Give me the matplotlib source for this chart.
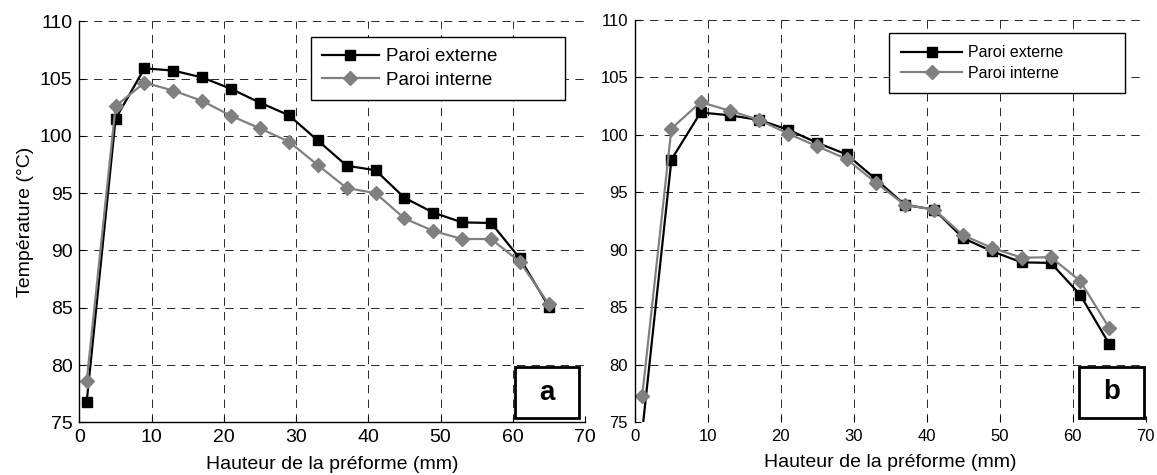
import numpy as np
import matplotlib
matplotlib.use("Agg")
import matplotlib.pyplot as plt
from matplotlib.patches import Rectangle

plt.rcParams['font.family'] = ['Liberation Sans', 'DejaVu Sans']
plt.rcParams['lines.scale_dashes'] = False

# hauteur de la preforme (mm)
hauteur = [1, 5, 9, 13, 17, 21, 25, 29, 33, 37, 41, 45, 49, 53, 57, 61, 65]

# (a)
ext_a = [76.8, 101.5, 105.9, 105.7, 105.1, 104.1, 102.9, 101.8, 99.6, 97.4,
         97.0, 94.6, 93.3, 92.45, 92.4, 89.3, 85.1]
int_a = [78.6, 102.6, 104.65, 103.95, 103.05, 101.75, 100.65, 99.5, 97.45, 95.45,
         95.0, 92.8, 91.7, 91.0, 91.0, 89.0, 85.3]

# (b)
ext_b = [74.2, 97.85, 101.95, 101.7, 101.3, 100.45, 99.3, 98.3, 96.15, 93.9,
         93.5, 91.0, 89.85, 88.9, 88.85, 86.1, 81.8]
int_b = [77.3, 100.55, 102.85, 102.1, 101.3, 100.1, 99.0, 97.9, 95.85, 93.9,
         93.5, 91.25, 90.15, 89.3, 89.35, 87.3, 83.2]

xticks = np.arange(0, 71, 10)
yticks = np.arange(75, 111, 5)
labels = ['Paroi externe', 'Paroi interne']
GREY = '#808080'


def panel(ax, ext, inte, tfs, lfs, leg_box, hlen, bpad, letter, lbox):
    ax.plot(hauteur, ext, color='black', lw=1.6, marker='s', ms=7,
            mfc='black', mec='black', label=labels[0])
    ax.plot(hauteur, inte, color=GREY, lw=1.6, marker='D', ms=7,
            mfc=GREY, mec=GREY, label=labels[1])
    ax.set_xlim(0, 70)
    ax.set_ylim(75, 110)
    ax.set_xticks(xticks)
    ax.set_yticks(yticks)
    ax.tick_params(direction='in', length=4, width=0.8, labelsize=tfs, pad=5,
                   top=False, right=False)
    ax.grid(True, color='0.15', lw=0.7, linestyle=(0, (6, 4.5)))
    ax.set_axisbelow(True)
    for s in ['top', 'right']:
        ax.spines[s].set_visible(False)
    for s in ['left', 'bottom']:
        ax.spines[s].set_linewidth(1.0)
    ax.set_xlabel('Hauteur de la préforme (mm)', fontsize=14, labelpad=7)

    leg = ax.legend(loc='upper left', bbox_to_anchor=leg_box, mode='expand',
                    fontsize=lfs, numpoints=1, handlelength=hlen, handletextpad=0.4,
                    borderpad=bpad, borderaxespad=0, labelspacing=0.35,
                    fancybox=False, framealpha=1, edgecolor='black')
    leg.get_frame().set_linewidth(1.0)

    ax.add_patch(Rectangle((lbox[0], lbox[1]), lbox[2], lbox[3], transform=ax.transAxes,
                           fill=True, facecolor='white', edgecolor='black', lw=2.0,
                           zorder=5))
    ax.text(lbox[0] + lbox[2] / 2, lbox[1] + lbox[3] / 2, letter, transform=ax.transAxes,
            ha='center', va='center', fontsize=20, fontweight='bold', zorder=6)


fig = plt.figure(figsize=(11.57, 4.75), dpi=100)
ax1 = fig.add_axes([0.0687, 0.1109, 0.4369, 0.8442])
ax2 = fig.add_axes([0.5488, 0.1116, 0.4414, 0.8463])

panel(ax1, ext_a, int_a, 14, 13.5, (0.458, 0.806, 0.502, 0.155), 3.0, 0.6,
      'a', (0.861, 0.011, 0.128, 0.126))
panel(ax2, ext_b, int_b, 12, 11.5, (0.498, 0.815, 0.461, 0.152), 3.8, 0.75,
      'b', (0.869, 0.011, 0.127, 0.126))
ax2.spines['bottom'].set_visible(False)

ax1.set_ylabel('Température (°C)', fontsize=14, labelpad=4)

fig.savefig('out.png', dpi=100)
